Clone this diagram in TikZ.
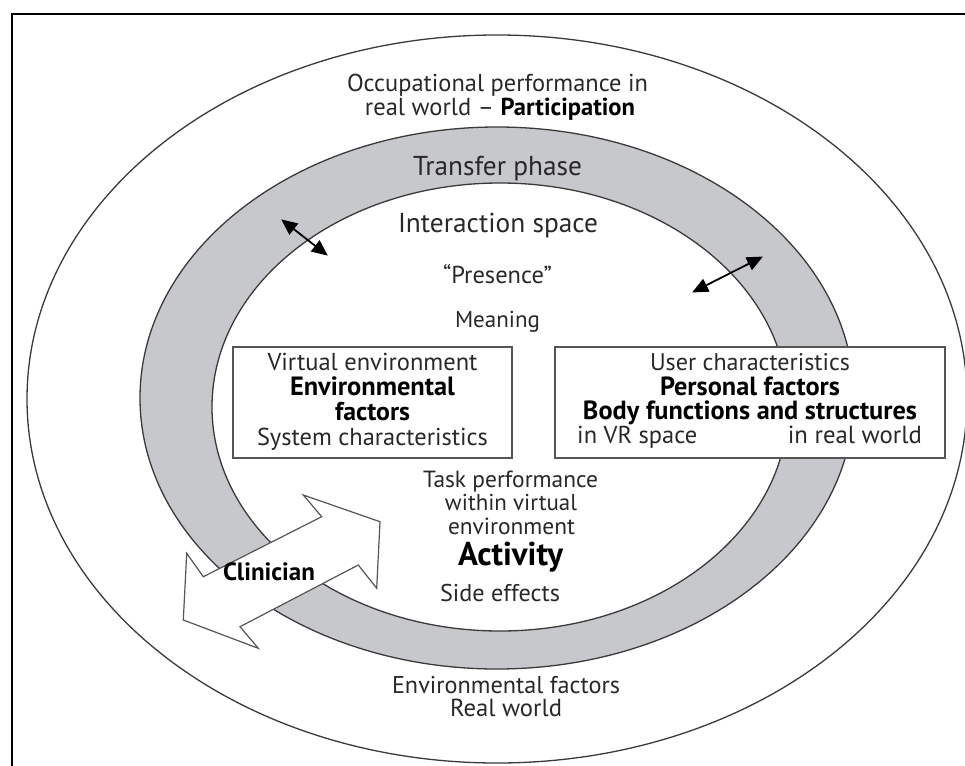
\documentclass[tikz,border=0pt]{standalone}
\usepackage{fontspec}
\usepackage{graphicx}
\setmainfont{PT Sans}
\usetikzlibrary{arrows.meta}
\definecolor{ringgray}{RGB}{199,200,203}
\definecolor{linegray}{RGB}{58,58,58}
\definecolor{txtgray}{RGB}{40,40,40}
\definecolor{boxline}{RGB}{85,85,85}
\newcommand{\fitto}[2]{\resizebox{#1pt}{!}{#2}}
\begin{document}
\begin{tikzpicture}[x=1pt,y=-1pt,
  lbl/.style={inner sep=0pt, anchor=base, text=txtgray, font=\fontsize{20}{20}\selectfont},
  bld/.style={lbl, text=black, font=\bfseries\fontsize{20}{20}\selectfont},
  ringline/.style={draw=linegray, line width=1.3pt},
  boxstyle/.style={draw=boxline, line width=1.2pt, fill=white, inner sep=0pt},
  smallarrow/.style={black, line width=1.8pt, {Triangle[length=16pt,width=14pt]}-{Triangle[length=16pt,width=14pt]}, shorten <=-1pt, shorten >=-1pt}
]
\useasboundingbox (0,0) rectangle (965,765);
\fill[white] (0,0) rectangle (965,765);
% frame
\draw[black, line width=2.2pt] (12,790) -- (12,14) -- (990,14);
% outer ellipse
\draw[ringline] (497,399) ellipse [x radius=470pt, y radius=364pt];
% grey ring
\fill[ringgray, even odd rule] (497,398) ellipse [x radius=357pt, y radius=271pt]
  (500,407) ellipse [x radius=288pt, y radius=224pt];
\draw[ringline] (497,398) ellipse [x radius=357pt, y radius=271pt];
\draw[ringline] (500,407) ellipse [x radius=288pt, y radius=224pt];

% small double arrows
\coordinate (a1s) at (282,220);
\coordinate (a1e) at (327,255);
\coordinate (a2s) at (693,292);
\coordinate (a2e) at (762,257);
\draw[smallarrow] (a1s) -- (a1e);
\draw[smallarrow] (a2s) -- (a2e);

% boxes
\node[boxstyle, minimum width=279pt, minimum height=111pt] (leftbox) at (372.5,402.5) {};
\node[boxstyle, minimum width=390pt, minimum height=111pt] (rightbox) at (750,402.5) {};

% clinician arrow
\draw[boxline, line width=1.2pt, fill=white, line join=miter]
  (303.3,495) -- (380,521.7) -- (376.7,588.3) -- (358.3,565) -- (240,626.7)
  -- (258.3,648.3) -- (183.3,620) -- (186.7,553.3) -- (203.3,576.7) -- (321.7,516.7) -- cycle;
\node[bld] (clin) at (269,580) {\fitto{92}{Clinician}};

% texts
\node[lbl] (occ1) at (497.5,91.5) {\fitto{301}{Occupational performance in}};
\node[lbl] (occ2) at (500,116) {\fitto{270}{real world -- \textbf{\color{black}Participation}}};
\node[lbl] (trans) at (497.5,175) {\fitto{169}{Transfer phase}};
\node[lbl] (inter) at (498,232) {\fitto{200}{Interaction space}};
\node[lbl] (pres) at (497.5,283) {\fitto{109}{“Presence”}};
\node[lbl] (mean) at (497.5,327) {\fitto{85}{Meaning}};

\node[lbl] (ve) at (372.5,370) {\fitto{210}{Virtual environment}};
\node[bld] (ef1) at (372.5,395) {\fitto{165}{Environmental}};
\node[bld] (ef2) at (372.5,420) {\fitto{75}{factors}};
\node[lbl] (sc) at (372.5,445) {\fitto{231}{System characteristics}};

\node[lbl] (uc) at (750,370) {\fitto{200}{User characteristics}};
\node[bld] (pf) at (750,395) {\fitto{180}{Personal factors}};
\node[bld] (bf) at (750,419) {\fitto{334}{Body functions and structures}};
\node[lbl, anchor=base west] (vr) at (577,443) {\fitto{120}{in VR space}};
\node[lbl, anchor=base east] (rw) at (922,443) {\fitto{134}{in real world}};

\node[lbl] (tp1) at (510.5,487) {\fitto{175}{Task performance}};
\node[lbl] (tp2) at (511,510) {\fitto{132}{within virtual}};
\node[lbl] (tp3) at (511.5,534) {\fitto{127}{environment}};
\node[bld] (act) at (510.5,565) {\fitto{105}{Activity}};
\node[lbl] (se) at (500,601) {\fitto{120}{Side effects}};

\node[lbl] (erw1) at (506,693) {\fitto{228}{Environmental factors}};
\node[lbl] (erw2) at (506,716) {\fitto{112}{Real world}};
\end{tikzpicture}
\end{document}
